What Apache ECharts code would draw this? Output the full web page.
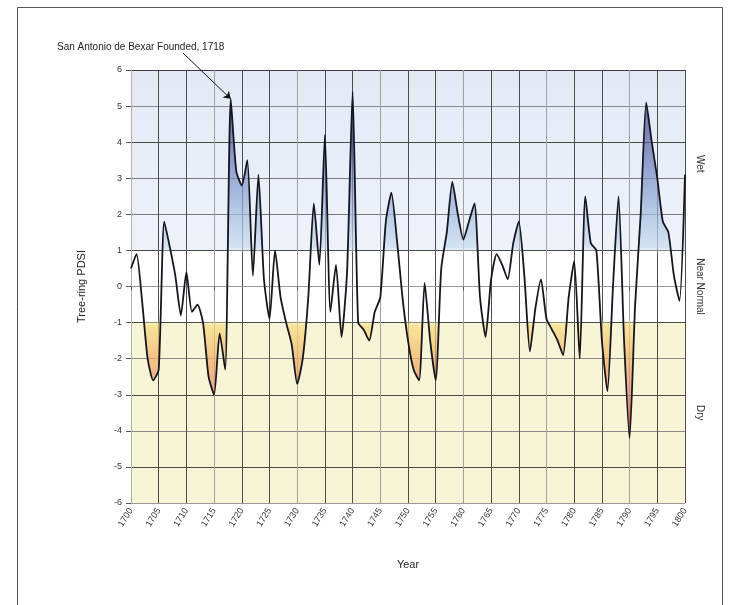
<!DOCTYPE html>
<html>
<head>
<meta charset="utf-8">
<script src="https://cdn.jsdelivr.net/npm/echarts@6/dist/echarts.min.js"></script>
<style>
  html, body { margin: 0; padding: 0; background: #ffffff; }
  #chart { width: 739px; height: 605px; }
</style>
</head>
<body>
<div id="chart"></div>
<script>
// ---- Data ----
const years = [
  1700,1701,1702,1703,1704,1705,1706,1707,1708,1709,
  1710,1711,1712,1713,1714,1715,1716,1717,1718,1719,
  1720,1721,1722,1723,1724,1725,1726,1727,1728,1729,
  1730,1731,1732,1733,1734,1735,1736,1737,1738,1739,
  1740,1741,1742,1743,1744,1745,1746,1747,1748,1749,
  1750,1751,1752,1753,1754,1755,1756,1757,1758,1759,
  1760,1761,1762,1763,1764,1765,1766,1767,1768,1769,
  1770,1771,1772,1773,1774,1775,1776,1777,1778,1779,
  1780,1781,1782,1783,1784,1785,1786,1787,1788,1789,
  1790,1791,1792,1793,1794,1795,1796,1797,1798,1799,
  1800
];
const pdsi = [
  0.5, 0.9, -0.4, -2.0, -2.6, -2.3, 1.8, 1.1, 0.3, -0.8,
  0.4, -0.7, -0.5, -1.0, -2.5, -3.0, -1.3, -2.3, 5.2, 3.2,
  2.8, 3.5, 0.3, 3.1, 0.2, -0.9, 1.0, -0.3, -1.0, -1.6,
  -2.7, -2.0, -0.3, 2.3, 0.6, 4.2, -0.7, 0.6, -1.4, 0.4,
  5.4, -1.0, -1.2, -1.5, -0.7, -0.3, 1.8, 2.6, 1.3, -0.3,
  -1.5, -2.3, -2.6, 0.1, -1.5, -2.6, 0.5, 1.5, 2.9, 2.0,
  1.3, 1.8, 2.3, -0.3, -1.4, 0.2, 0.9, 0.6, 0.2, 1.2,
  1.8, 0.3, -1.8, -0.6, 0.2, -0.9, -1.2, -1.5, -1.9, -0.3,
  0.7, -2.0, 2.5, 1.2, 1.0, -1.5, -2.9, 0.0, 2.5, -1.5,
  -4.2, -0.5, 2.0, 5.1, 4.0, 3.0, 1.8, 1.5, 0.3, -0.4,
  3.1
];
const yTicks = [-6, -5, -4, -3, -2, -1, 0, 1, 2, 3, 4, 5, 6];
const xMin = 1700, xMax = 1800, xStep = 5;
const annotationText = 'San Antonio de Bexar Founded, 1718';
const annotationPoint = [1718, 5.2];
const bandLabels = ['Wet', 'Near Normal', 'Dry'];
const bandLabelValues = [3.4, 0, -3.5];
const bands = [[1, 6], [-1, 1], [-6, -1]];

// ---- Chart ----
const chart = echarts.init(document.getElementById('chart'), null, { renderer: 'canvas' });
const FONT = 'Liberation Sans, Arial, sans-serif';

const gridTop = 70, gridBottom = 102, gridLeft = 131, gridRight = 54;
const plotTopPx = gridTop, plotBottomPx = 605 - gridBottom;

const seriesData = years.map((y, i) => [y, pdsi[i]]);

const ySplitColors = ['#9a9a9a', '#4a4a4a', '#8a8a8a', '#4a4a4a', '#8a8a8a', '#4a4a4a', '#4a4a4a',
                      '#4a4a4a', '#7a7a7a', '#7a7a7a', '#4a4a4a', '#8a8a8a', '#3a3a3a'];

const option = {
  animation: false,
  backgroundColor: '#ffffff',
  textStyle: { fontFamily: FONT },
  title: {
    text: annotationText,
    left: 52, top: 37,
    textStyle: { fontSize: 10, fontWeight: 'normal', color: '#222', fontFamily: FONT }
  },
  grid: { left: gridLeft, right: gridRight, top: gridTop, bottom: gridBottom, containLabel: false },
  xAxis: {
    type: 'value', min: xMin, max: xMax, interval: xStep, z: 1,
    name: 'Year', nameLocation: 'middle', nameGap: 56,
    nameTextStyle: { fontSize: 11, color: '#222', fontFamily: FONT },
    axisLine: { show: true, lineStyle: { color: '#9a9a9a', width: 1 } },
    axisTick: { show: true, length: 4, lineStyle: { color: '#555' } },
    axisLabel: { rotate: 58, fontSize: 9, color: '#333', margin: 6, formatter: v => String(v), fontFamily: FONT },
    splitLine: { show: true, lineStyle: { color: ['#a0a0a0', '#4d4d4d', '#4d4d4d'], width: 1 } }
  },
  yAxis: {
    type: 'value', min: -6, max: 6, interval: 1, z: 1,
    name: 'Tree-ring PDSI', nameLocation: 'middle', nameGap: 44, nameRotate: 90,
    nameTextStyle: { fontSize: 11, color: '#222', fontFamily: FONT },
    axisLine: { show: true, lineStyle: { color: '#b0b0b0', width: 1 } },
    axisTick: { show: true, length: 5, lineStyle: { color: '#555' } },
    axisLabel: { fontSize: 9, color: '#333', margin: 9, fontFamily: FONT },
    splitLine: { show: true, lineStyle: { color: ySplitColors, width: 1 } }
  },
  series: [{
    type: 'line',
    data: seriesData,
    smooth: 0.2,
    symbol: 'none',
    z: 3,
    silent: true,
    lineStyle: { color: '#15151e', width: 1.8 },
    areaStyle: {
      origin: 0,
      color: new echarts.graphic.LinearGradient(0, plotTopPx, 0, plotBottomPx, [
        { offset: 0.0, color: '#2c2d6a' },
        { offset: 0.083, color: '#3a4188' },
        { offset: 0.167, color: '#5662a8' },
        { offset: 0.25, color: '#7b8fc6' },
        { offset: 0.333, color: '#a2bcdf' },
        { offset: 0.41, color: '#c9dcf0' },
        { offset: 0.425, color: 'rgba(255,255,255,0)' },
        { offset: 0.575, color: 'rgba(255,255,255,0)' },
        { offset: 0.59, color: '#f7dc80' },
        { offset: 0.667, color: '#f0ae64' },
        { offset: 0.75, color: '#e88672' },
        { offset: 0.833, color: '#d8453a' },
        { offset: 0.917, color: '#b01a1a' },
        { offset: 1.0, color: '#901010' }
      ], true)
    },
    markArea: {
      silent: true,
      z: -1,
      data: [
        [{ yAxis: bands[0][0], itemStyle: { color: new echarts.graphic.LinearGradient(0, 0, 0, 1, [
            { offset: 0, color: '#e2e9f5' }, { offset: 1, color: '#eef3fa' }]) } }, { yAxis: bands[0][1] }],
        [{ yAxis: bands[1][0], itemStyle: { color: '#ffffff' } }, { yAxis: bands[1][1] }],
        [{ yAxis: bands[2][0], itemStyle: { color: '#f7f5d6' } }, { yAxis: bands[2][1] }]
      ]
    },
    markLine: {
      silent: true,
      symbol: ['none', 'arrow'],
      symbolSize: 7,
      label: { show: false },
      lineStyle: { color: '#111', width: 1, type: 'solid' },
      emphasis: { disabled: true },
      data: [[{ x: 183, y: 53 }, { coord: annotationPoint }]]
    }
  }],
  graphic: []
};

chart.setOption(option);

// right-side band labels, positioned from the y scale
const g = [];
bandLabels.forEach((t, i) => {
  const p = chart.convertToPixel({ gridIndex: 0 }, [xMax, bandLabelValues[i]]);
  g.push({
    type: 'text', x: p[0] + 15, y: p[1], rotation: -Math.PI / 2,
    style: { text: t, fontSize: 10, fill: '#333', font: '10px ' + FONT, textAlign: 'center', textVerticalAlign: 'middle' },
    silent: true
  });
});
// outer frame like the original chart area border
g.push({ type: 'rect', shape: { x: 17.5, y: 7.5, width: 705, height: 620 }, style: { fill: 'none', stroke: '#555', lineWidth: 1 }, silent: true });
chart.setOption({ graphic: g });
</script>
</body>
</html>
